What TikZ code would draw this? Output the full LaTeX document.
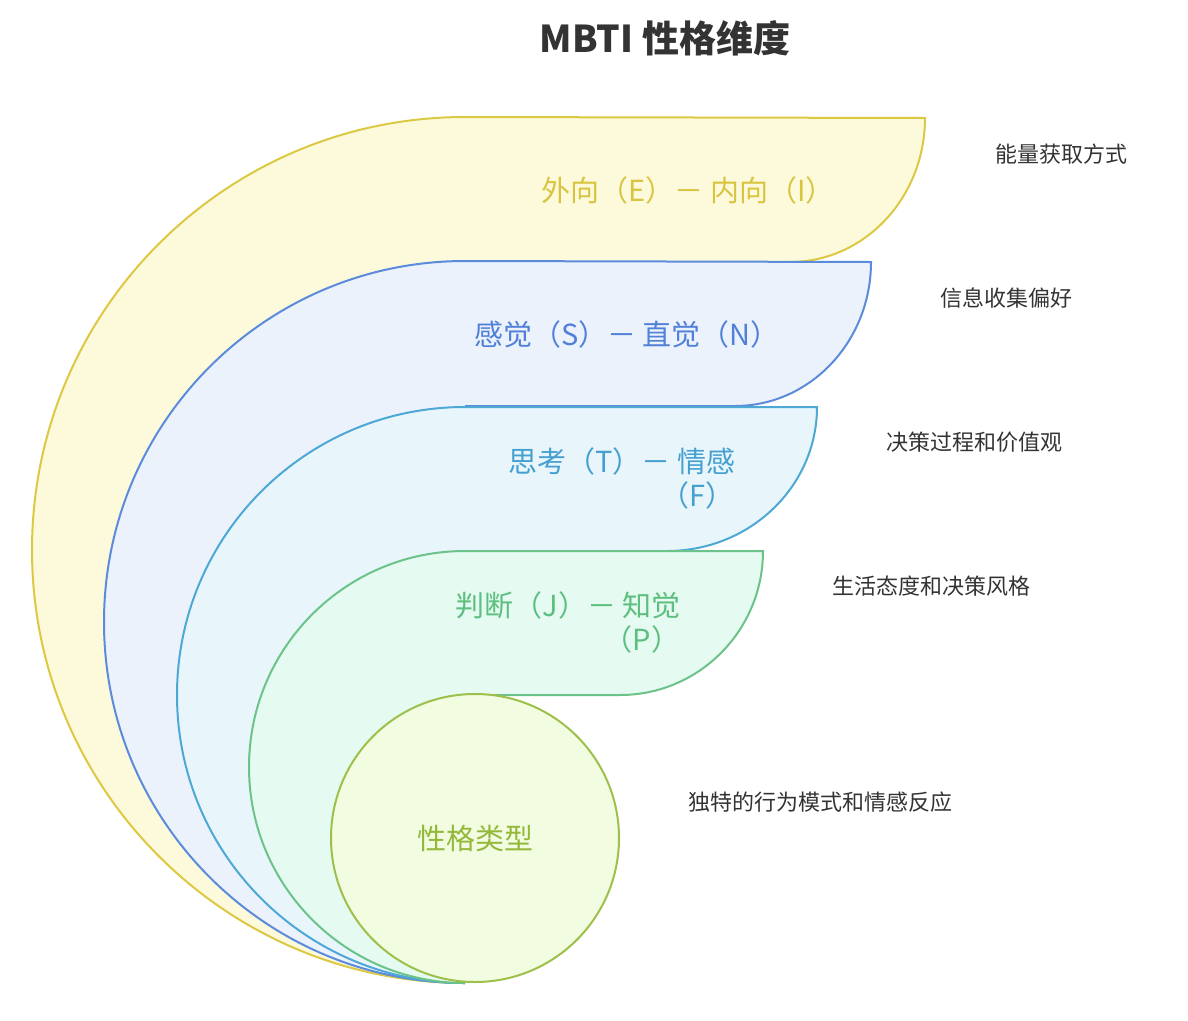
\documentclass[tikz,border=0pt]{standalone}
\usepackage{fontspec}
\setmainfont{Noto Sans CJK SC}
\definecolor{ys}{HTML}{DCC843}\definecolor{yf}{HTML}{FDFADC}\definecolor{yt}{HTML}{D9C440}
\definecolor{bs}{HTML}{5B8BDB}\definecolor{bf}{HTML}{EBF2FC}\definecolor{bt}{HTML}{5080D8}
\definecolor{cs}{HTML}{4EA8D6}\definecolor{cf}{HTML}{E8F6FC}\definecolor{ct}{HTML}{45A0D0}
\definecolor{gs}{HTML}{6CC38A}\definecolor{gf}{HTML}{E5FAF0}\definecolor{gt}{HTML}{5CBF80}
\definecolor{ls}{HTML}{9DC04A}\definecolor{lf}{HTML}{F2FCE0}\definecolor{lt}{HTML}{94B83A}
\definecolor{tx}{HTML}{333333}
\tikzset{band/.style={line width=2pt},
 lab/.style={font=\fontsize{29}{34}\selectfont},
 side/.style={font=\fontsize{22}{26}\selectfont,text=tx,anchor=west}}
\newcommand{\bandshape}[7]{% stroke, fill, cy, r, top, xR, rx
 \filldraw[band,draw=#1,fill=#2] (465,#3+#4) arc[start angle=90,end angle=270,radius=#4]
  -- (#6,#5) arc[start angle=0,end angle=90,x radius=#7,y radius=144] -- (465,#5+144);}
\begin{document}
\begin{tikzpicture}[x=1pt,y=-1pt]
\useasboundingbox (0,0) rectangle (1188,1020);
\node[font=\fontsize{37}{42}\selectfont\bfseries,text=tx] (title) at (665,38) {MBTI 性格维度};
\bandshape{ys}{yf}{550}{433}{118}{925}{135}
\bandshape{bs}{bf}{622}{361}{262}{871}{136}
\bandshape{cs}{cf}{695}{288}{407}{817}{150}
\bandshape{gs}{gf}{767}{216}{551}{763}{143}
\filldraw[band,draw=ls,fill=lf] (475,838) circle[radius=144];
\node[lab,text=yt] (l1) at (688,190) {外向（E）－ 内向（I）};
\node[lab,text=bt] (l2) at (627,334) {感觉（S）－ 直觉（N）};
\node[lab,text=ct] (l3) at (622,461) {思考（T）－ 情感};
\node[lab,text=ct] (l3b) at (697,495) {（F）};
\node[lab,text=gt] (l4) at (568,605) {判断（J）－ 知觉};
\node[lab,text=gt] (l4b) at (642,639) {（P）};
\node[lab,text=lt] (l5) at (475,838) {性格类型};
\node[side] (s1) at (992,154) {能量获取方式};
\node[side] (s2) at (937,298) {信息收集偏好};
\node[side] (s3) at (883,442) {决策过程和价值观};
\node[side] (s4) at (829,586) {生活态度和决策风格};
\node[side] (s5) at (685,802) {独特的行为模式和情感反应};
\end{tikzpicture}
\end{document}
